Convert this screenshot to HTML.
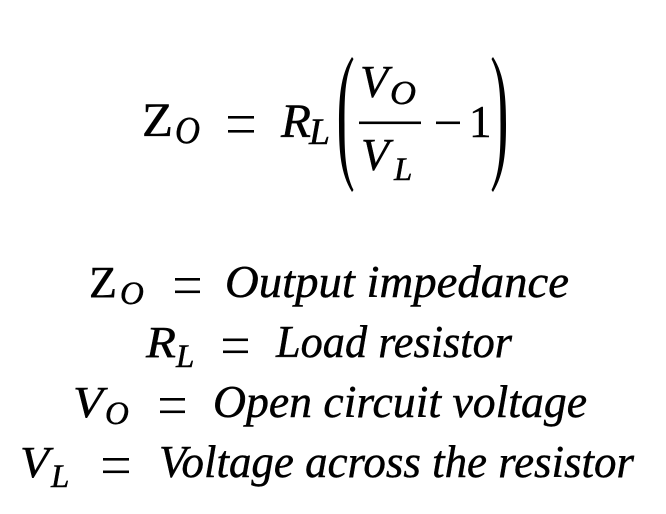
<!DOCTYPE html>
<html>
<head>
<meta charset="utf-8">
<style>
html,body{margin:0;padding:0;background:#fff;}
svg{display:block;}
text{font-family:"Liberation Serif",serif;fill:#000;stroke:#000;stroke-width:0.45;}
.i{font-style:italic;}
</style>
</head>
<body>
<svg width="666" height="514" viewBox="0 0 666 514" xmlns="http://www.w3.org/2000/svg">
<rect width="666" height="514" fill="#fff"/>

<!-- Top equation -->
<text x="142" y="136" font-size="48" textLength="31" lengthAdjust="spacingAndGlyphs">Z</text>
<text class="i" x="175" y="143" font-size="38" textLength="25" lengthAdjust="spacingAndGlyphs">O</text>
<rect x="228" y="116" width="26" height="2.6"/>
<rect x="228" y="130" width="26" height="2.6"/>
<text class="i" x="281" y="137" font-size="48" textLength="30" lengthAdjust="spacingAndGlyphs">R</text>
<text class="i" x="309" y="144" font-size="37" textLength="21" lengthAdjust="spacingAndGlyphs">L</text>

<path d="M352,57 C340,75 339,100 339,124 C339,148 340,173 352,192 L353.5,190 C344.5,172 344.5,148 344.5,124 C344.5,100 344.5,76 353.5,59 Z"/>
<path d="M493,57 C505,75 506,100 506,124 C506,148 505,173 493,192 L491.5,190 C500.5,172 500.5,148 500.5,124 C500.5,100 500.5,76 491.5,59 Z"/>

<text class="i" x="360" y="97" font-size="46">V</text>
<text class="i" x="390" y="104" font-size="34" textLength="26" lengthAdjust="spacingAndGlyphs">O</text>
<rect x="359" y="121.5" width="62" height="2.6"/>
<text class="i" x="361" y="170" font-size="46">V</text>
<text class="i" x="394" y="180" font-size="33">L</text>
<rect x="436" y="121.5" width="24" height="2.6"/>
<text x="469" y="137" font-size="45">1</text>

<!-- Line 1 -->
<text x="89" y="297" font-size="44" textLength="28" lengthAdjust="spacingAndGlyphs">Z</text>
<text class="i" x="120" y="304" font-size="33">O</text>
<rect x="175" y="278" width="25" height="2.6"/>
<rect x="175" y="290.5" width="25" height="2.6"/>
<text class="i" x="225" y="297" font-size="45" textLength="344" lengthAdjust="spacingAndGlyphs">Output impedance</text>

<!-- Line 2 -->
<text class="i" x="146" y="357" font-size="44" textLength="30" lengthAdjust="spacingAndGlyphs">R</text>
<text class="i" x="176" y="367" font-size="33">L</text>
<rect x="223" y="338.5" width="25" height="2.6"/>
<rect x="223" y="350.5" width="25" height="2.6"/>
<text class="i" x="276" y="357" font-size="45" textLength="236" lengthAdjust="spacingAndGlyphs">Load resistor</text>

<!-- Line 3 -->
<text class="i" x="73" y="417" font-size="44" textLength="30" lengthAdjust="spacingAndGlyphs">V</text>
<text class="i" x="105" y="424" font-size="33">O</text>
<rect x="160" y="398" width="25" height="2.6"/>
<rect x="160" y="410.5" width="25" height="2.6"/>
<text class="i" x="213" y="417" font-size="45" textLength="374" lengthAdjust="spacingAndGlyphs">Open circuit voltage</text>

<!-- Line 4 -->
<text class="i" x="20" y="477" font-size="44" textLength="29" lengthAdjust="spacingAndGlyphs">V</text>
<text class="i" x="51" y="487" font-size="33">L</text>
<rect x="103" y="458" width="26" height="2.6"/>
<rect x="103" y="470.5" width="26" height="2.6"/>
<text class="i" x="159" y="477" font-size="45" textLength="475" lengthAdjust="spacingAndGlyphs">Voltage across the resistor</text>
</svg>
</body>
</html>
